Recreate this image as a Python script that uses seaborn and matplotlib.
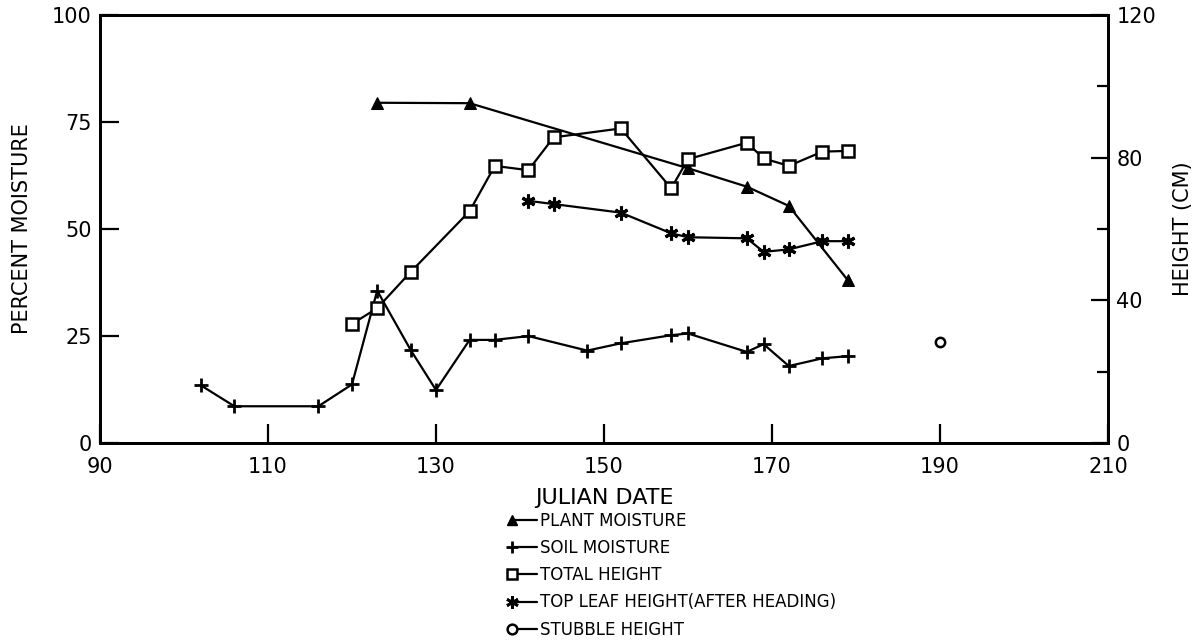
import numpy as np
import pandas as pd
import matplotlib
matplotlib.use("Agg")
import matplotlib.pyplot as plt
import seaborn as sns
from matplotlib.legend_handler import HandlerLine2D

# datos
plant_day = [123, 134, 160, 167, 172, 179]
plant_moist = [79.5, 79.4, 64.2, 59.9, 55.4, 38.1]

soil_day = [102, 106, 116, 120, 123, 127, 130, 134, 137, 141, 148, 152, 158, 160, 167, 169, 172, 176, 179]
soil_moist = [13.5, 8.6, 8.6, 13.7, 35.6, 21.7, 12.4, 24.1, 24.1, 25.0, 21.6, 23.3, 25.2, 25.6, 21.3, 23.1, 18.0, 19.8, 20.3]

total_day = [120, 123, 127, 134, 137, 141, 144, 152, 158, 160, 167, 169, 172, 176, 179]
total_height = [33.4, 37.8, 48.0, 65.0, 77.7, 76.5, 85.7, 88.2, 71.4, 79.6, 84.2, 79.8, 77.7, 81.7, 81.9]

leaf_day = [141, 144, 152, 158, 160, 167, 169, 172, 176, 179]
leaf_height = [67.9, 67.0, 64.6, 58.8, 57.7, 57.4, 53.6, 54.3, 56.6, 56.6]

stubble_day = [190]
stubble_height = [28.4]

sns.set_style("ticks")
plt.rcParams['font.family'] = ['DejaVu Sans']
plt.rcParams['text.color'] = 'black'
plt.rcParams['axes.labelcolor'] = 'black'
plt.rcParams['xtick.color'] = 'black'
plt.rcParams['ytick.color'] = 'black'

fig = plt.figure(figsize=(11.97, 6.44), dpi=100)
ax = fig.add_axes([0.0835, 0.312, 0.8422, 0.6647])
ax2 = ax.twinx()

sns.lineplot(x=plant_day, y=plant_moist, ax=ax, color='black', lw=1.6,
             marker='^', markersize=8, markerfacecolor='black', markeredgecolor='black')
sns.lineplot(x=soil_day, y=soil_moist, ax=ax, color='black', lw=1.6,
             marker='+', markersize=10, markeredgewidth=2, markeredgecolor='black')
sns.lineplot(x=total_day, y=total_height, ax=ax2, color='black', lw=1.6,
             marker='s', markersize=8, markerfacecolor='white', markeredgecolor='black', markeredgewidth=1.8)
sns.lineplot(x=leaf_day, y=leaf_height, ax=ax2, color='black', lw=1.6,
             marker=(6, 2, 0), markersize=10, markeredgewidth=2.2, markeredgecolor='black')
sns.scatterplot(x=stubble_day, y=stubble_height, ax=ax2, color='white', edgecolor='black',
                linewidth=1.8, marker='o', s=45)

ax.set_xlim(90, 210)
ax.set_ylim(0, 100)
ax2.set_ylim(0, 120)
ax.set_xticks(np.arange(90, 211, 20))
ax.set_yticks([0, 25, 50, 75, 100])
ax2.set_yticks([0, 40, 80, 120])
ax2.set_yticks([20, 60, 100], minor=True)

ax.tick_params(axis='x', direction='in', length=14, width=1.6, labelsize=15, pad=10)
ax.tick_params(axis='y', direction='in', length=14, width=1.6, labelsize=15, pad=6)
ax2.tick_params(axis='y', which='major', direction='in', length=12, width=1.6, labelsize=15, pad=6)
ax2.tick_params(axis='y', which='minor', direction='in', length=8, width=1.6)
for a in (ax, ax2):
    for s in a.spines.values():
        s.set_linewidth(2)
        s.set_color('black')

ax.set_xlabel('JULIAN DATE', fontsize=16, labelpad=8)
ax.set_ylabel('PERCENT MOISTURE', fontsize=15, labelpad=14)
ax2.set_ylabel('HEIGHT (CM)', fontsize=15, labelpad=12)


# marcador al inicio de la linea en la leyenda
class LeftMarker(HandlerLine2D):
    def create_artists(self, legend, orig_handle, xdescent, ydescent,
                       width, height, fontsize, trans):
        arts = super().create_artists(legend, orig_handle, xdescent, ydescent,
                                      width, height, fontsize, trans)
        for a in arts:
            a.set_markevery([0])
        return arts


def proxy(**kw):
    return plt.Line2D([], [], color='black', lw=1.6, **kw)

handles = [proxy(marker='^', markersize=7, markerfacecolor='black'),
           proxy(marker='+', markersize=9, markeredgewidth=2),
           proxy(marker='s', markersize=7, markerfacecolor='white', markeredgewidth=1.8),
           proxy(marker=(6, 2, 0), markersize=9, markeredgewidth=2),
           proxy(marker='o', markersize=7, markerfacecolor='white', markeredgewidth=1.8)]
labels = ['PLANT MOISTURE', 'SOIL MOISTURE', 'TOTAL HEIGHT',
          'TOP LEAF HEIGHT(AFTER HEADING)', 'STUBBLE HEIGHT']
fig.legend(handles, labels, loc='upper left', bbox_to_anchor=(0.428, 0.205),
           frameon=False, fontsize=12, handlelength=1.5, handletextpad=0.15,
           labelspacing=0.55, borderpad=0, borderaxespad=0,
           handler_map={plt.Line2D: LeftMarker()})

fig.savefig('out.png', dpi=100)
